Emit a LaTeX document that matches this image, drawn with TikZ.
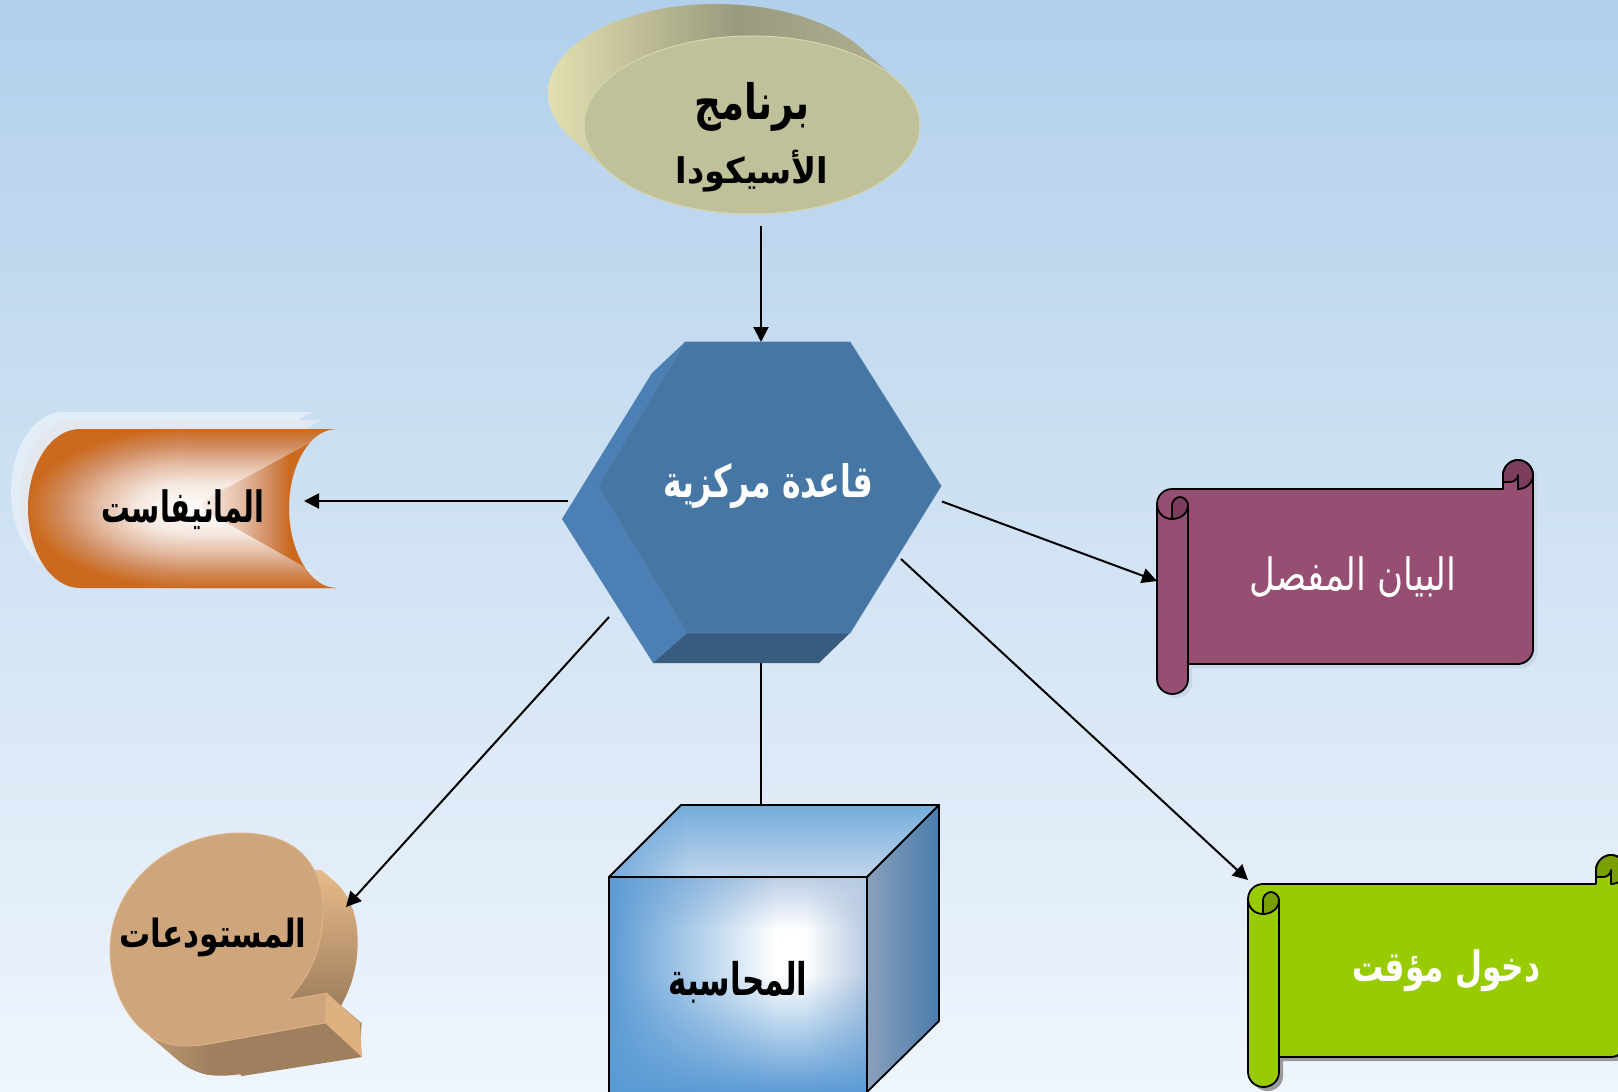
\documentclass[tikz,border=0pt]{standalone}
\usepackage{graphicx}
\usepackage{fontspec}
\usetikzlibrary{arrows.meta,fadings}
\TeXXeTstate=1
\newfontfamily\arabicfont[Script=Arabic]{DejaVu Sans}
\definecolor{bgtop}{HTML}{B2D0EB}
\definecolor{bgbot}{HTML}{EFF5FC}
\definecolor{manor}{HTML}{CB6A1E}
\definecolor{manA}{HTML}{D08A5C}
\definecolor{manB}{HTML}{E4BCA4}
\definecolor{manC}{HTML}{F6EAE2}
\definecolor{cubeblue}{HTML}{5B9BD5}
\definecolor{cubepale}{HTML}{BCCFE6}
\definecolor{cubepaleR}{HTML}{B8CAE2}
\definecolor{cubetopA}{HTML}{74ACDC}
\definecolor{cubetopB}{HTML}{C0D6EC}
\definecolor{cubecornA}{HTML}{72A9DA}
\definecolor{cubesideA}{HTML}{8AA0BC}
\definecolor{cubesideB}{HTML}{4A7CAC}
\definecolor{ellL}{HTML}{E2E0B0}
\definecolor{ellM}{HTML}{9A9A7E}
\definecolor{ellR}{HTML}{B4B494}
\definecolor{ellF}{HTML}{C0C09A}
\definecolor{ellE}{HTML}{D6D6AE}
\definecolor{hexL}{HTML}{4C7FB3}
\definecolor{hexB}{HTML}{375C80}
\definecolor{hexF}{HTML}{4677A4}
\definecolor{hexE}{HTML}{4F80B0}
\definecolor{manbackA}{HTML}{E2EDF8}
\definecolor{manbackB}{HTML}{E2E8EE}
\definecolor{purpleF}{HTML}{964F72}
\definecolor{purpleD}{HTML}{7B3F5D}
\definecolor{purpleS}{HTML}{C9D7E8}
\definecolor{greenF}{HTML}{99CC00}
\definecolor{greenD}{HTML}{7A9F00}
\definecolor{greenS}{HTML}{9A9A9A}
\definecolor{bubF}{HTML}{CFA67B}
\definecolor{bubE}{HTML}{DFB486}
\definecolor{bubTop}{HTML}{E8BB8A}
\definecolor{bubLow}{HTML}{C4A27E}
\definecolor{bubDark}{HTML}{A07F5E}
\definecolor{bubTail}{HTML}{DFB080}
\pgfdeclareverticalshading{manvert}{100bp}{color(0bp)=(manor); color(25bp)=(manor); color(30bp)=(manA); color(36bp)=(manB); color(42.5bp)=(manC); color(50bp)=(white); color(57.5bp)=(manC); color(64bp)=(manB); color(70bp)=(manA); color(75bp)=(manor); color(100bp)=(manor)}
\pgfdeclareradialshading{manrad}{\pgfpointorigin}{color(0bp)=(white); color(7.5bp)=(manC); color(14bp)=(manB); color(20bp)=(manA); color(25bp)=(manor); color(50bp)=(manor)}
\pgfdeclarehorizontalshading{manwedge}{100bp}{color(0bp)=(white); color(25bp)=(white); color(30bp)=(manC); color(45bp)=(manB); color(58bp)=(manA); color(66bp)=(manor); color(100bp)=(manor)}
\tikzfading[name=fromleft,left color=transparent!0,right color=transparent!100]
\tikzfading[name=fromright,left color=transparent!100,right color=transparent!0]
\tikzfading[name=fromtop,top color=transparent!0,bottom color=transparent!100]
\tikzfading[name=frombottom,top color=transparent!100,bottom color=transparent!0]
\newcommand{\artext}[3]{\resizebox*{#1pt}{#2pt}{\arabicfont #3}}
\newcommand{\scrollpath}{(0,15) .. controls (0,6.7) and (6.7,0) .. (15,0) -- (\Wa,0) -- (\Wa,-14) .. controls (\Wa,-22) and (\Wb,-29) .. (\Wc,-29) .. controls (\Wd,-29) and (\W,-22) .. (\W,-14) -- (\W,\Ha) .. controls (\W,\Hb) and (\Wd,\H) .. (\Wc,\H) -- (31,\H) -- (31,\Hc) .. controls (31,\Hd) and (24,\He) .. (15.5,\He) .. controls (7,\He) and (0,\Hd) .. (0,\Hc) -- cycle}
% #1 x, #2 y, #3 width, #4 height, #5 main colour, #6 dark colour, #7 shadow colour
\newcommand{\scrollshape}[7]{%
  \begin{scope}[shift={(#1,#2)}]
    \pgfmathsetmacro{\W}{#3}\pgfmathsetmacro{\H}{#4}
    \pgfmathsetmacro{\Wa}{#3-30}\pgfmathsetmacro{\Wb}{#3-23}\pgfmathsetmacro{\Wc}{#3-15}\pgfmathsetmacro{\Wd}{#3-7}
    \pgfmathsetmacro{\We}{#3-19}
    \pgfmathsetmacro{\Ha}{#4-15}\pgfmathsetmacro{\Hb}{#4-7}\pgfmathsetmacro{\Hc}{#4+15}\pgfmathsetmacro{\Hd}{#4+23.5}\pgfmathsetmacro{\He}{#4+30}
    \fill[#7,shift={(4,4)}] \scrollpath;
    \draw[scrolline,fill=#5] \scrollpath;
    % right curl
    \draw[scrolline,fill=#6] (\Wa,-7) -- (\Wa,-14) .. controls (\Wa,-22) and (\Wb,-29) .. (\Wc,-29) .. controls (\Wd,-29) and (\W,-22) .. (\W,-14) .. controls (\W,-6) and (\Wd,0) .. (\Wc,0) -- (\Wc,-14) .. controls (\Wc,-10) and (\We,-7) .. (\Wb,-7) -- cycle;
    % left curl
    \draw[scrolline,fill=#6] (15,30) -- (15,16) .. controls (15,12) and (19,8) .. (23,8) .. controls (27,8) and (31,12) .. (31,16) .. controls (31,24) and (24,30) .. (15,30) -- cycle;
    \draw[scrolline] (0,15) .. controls (0,24) and (7,30) .. (15,30);
    \draw[scrolline] (31,16) -- (31,\H);
  \end{scope}}
\newcommand{\bubpath}{({240+\dx},{833+\dy}) .. controls ({295+\dx},{833+\dy}) and ({323+\dx},{862+\dy}) .. ({323+\dx},{912+\dy}) .. controls ({323+\dx},{945+\dy}) and ({312+\dx},{975+\dy}) .. ({288+\dx},{1000+\dy}) -- ({327+\dx},{993+\dy}) -- ({325+\dx},{1023+\dy}) -- ({220+\dx},{1042+\dy}) .. controls ({205+\dx},{1045+\dy}) and ({195+\dx},{1046+\dy}) .. ({185+\dx},{1046+\dy}) .. controls ({140+\dx},{1046+\dy}) and ({110+\dx},{1000+\dy}) .. ({110+\dx},{950+\dy}) .. controls ({110+\dx},{885+\dy}) and ({170+\dx},{833+\dy}) .. ({240+\dx},{833+\dy}) -- cycle}
\tikzset{
  every node/.style={inner sep=0pt,outer sep=0pt},
  link/.style={line width=2pt,black,-{Triangle[length=15pt,width=15pt]}},
  plainlink/.style={line width=2pt,black},
  scrolline/.style={line width=1.8pt,black,line join=round},
  cubeline/.style={line width=1.8pt,black,line join=miter},
  blacktext/.style={text=black,font=\bfseries},
  whitetext/.style={text=white,font=\bfseries},
  lighttext/.style={text=white},
}
\begin{document}
\begin{tikzpicture}[x=1pt,y=-1pt]
\useasboundingbox (0,0) rectangle (1618,1092);
\path[clip] (0,0) rectangle (1618,1092);
\shade[top color=bgtop,bottom color=bgbot] (0,0) rectangle (1618,1092);

\coordinate (progOut) at (761,226);
\coordinate (hexTop) at (761,342);
\coordinate (hexLeftOut) at (568,501);
\coordinate (manIn) at (304,501);
\coordinate (hexRightOut) at (942,501.5);
\coordinate (bayanIn) at (1157,581);
\coordinate (hexLowRight) at (901,559);
\coordinate (dukhulIn) at (1248,880);
\coordinate (hexLowLeft) at (609,617);
\coordinate (mustIn) at (346,907);
\coordinate (hexBot) at (761,663);
\coordinate (cubeTop) at (761,805);

% ---------- programme ellipse
\begin{scope}
  \clip \foreach \t in {0,0.033,...,1.01} { ({716+36*\t},{93+32*\t}) ellipse [x radius=168pt,y radius=89pt] };
  \shade[left color=ellL,right color=ellR,middle color=ellM] (548,0) rectangle (925,220);
\end{scope}
\fill[ellF,draw=ellE,line width=1pt] (752,125) ellipse [x radius=168pt,y radius=89pt];

% ---------- hexagon
\fill[hexL] (685,342) -- (652,373) -- (562,519) -- (653,663) -- (687,633) -- (598,486) -- cycle;
\fill[hexB] (653,663) -- (687,633) -- (850,633) -- (819,663) -- cycle;
\fill[hexF,draw=hexE,line width=0.8pt,line join=round] (685,342) -- (850,342) -- (941,486) -- (850,633) -- (687,633) -- (598,486) -- cycle;

% ---------- manifest shape
\newcommand{\manpath}{(80,429) -- (336,429) .. controls (310,429) and (289,465) .. (289,508) .. controls (289,551) and (310,588) .. (336,588) -- (80,588) .. controls (51,588) and (28,552) .. (28,508) .. controls (28,465) and (51,429) .. (80,429) -- cycle}
\fill[manbackA,shift={(-17,-17)}] \manpath;
\fill[manbackB,shift={(-8,-9)}] \manpath;
\begin{scope}
  \clip \manpath;
  \fill[manor] (0,420) rectangle (340,600);
  \shade[shading=manvert] (187,429) rectangle (340,588);
  \begin{scope}
    \clip (0,420) rectangle (187,600);
    \shade[shading=manrad] (187,508) ellipse [x radius=159pt,y radius=79.5pt];
  \end{scope}
  \shade[shading=manwedge] (195,505) -- (310,443) -- (310,570) -- cycle;
\end{scope}

% ---------- scrolls
\scrollshape{1157}{489}{376}{175}{purpleF}{purpleD}{purpleS}
\scrollshape{1248}{884}{378}{173}{greenF}{greenD}{greenS}

% ---------- speech-bubble
\begin{scope}
  \clip \foreach \t [evaluate=\t as \dx using 35*\t, evaluate=\t as \dy using 30*\t] in {0,0.033,...,1.01} { \bubpath };
  \shade[top color=bubTop,bottom color=bubDark] (100,870) rectangle (370,1005);
  \fill[bubDark] (100,1004) rectangle (370,1085);
  \shade[left color=bubLow,right color=bubDark] (130,1010) rectangle (210,1085);
\end{scope}
\fill[bubDark] (207,1045) -- (325,1023) -- (362,1057) -- (242,1076) -- cycle;
\fill[bubTail] (327,993) -- (360,1023) -- (362,1057) -- (325,1023) -- cycle;
\def\dx{0}\def\dy{0}
\fill[bubF,draw=bubE,line width=0.8pt,line join=round] \bubpath;

% ---------- cube
\fill[white] (609,877) rectangle (867,1092);
\fill[cubepale,path fading=fromtop] (609,877) rectangle (867,930);
\fill[cubepaleR,path fading=fromright] (805,877) rectangle (867,1092);
\fill[cubeblue,path fading=frombottom] (609,975) rectangle (867,1092);
\fill[cubeblue,path fading=fromleft] (609,877) rectangle (775,1092);
\shade[top color=cubetopA,bottom color=cubetopB] (681,805) -- (939,805) -- (867,877) -- (609,877) -- cycle;
\fill[cubecornA,path fading=fromleft] (609,877) -- (681,805) -- (690,877) -- cycle;
\shade[left color=cubesideA,right color=cubesideB] (867,877) -- (939,805) -- (939,1021) -- (867,1092) -- cycle;
\draw[cubeline] (609,1092) -- (609,877) -- (681,805) -- (939,805) -- (939,1021) -- (867,1092) -- (867,877) -- (609,877);
\draw[cubeline] (867,877) -- (939,805);

% ---------- connectors
\draw[link] (progOut) -- (hexTop);
\draw[link] (hexLeftOut) -- (manIn);
\draw[link] (hexRightOut) -- (bayanIn);
\draw[link] (hexLowRight) -- (dukhulIn);
\draw[link] (hexLowLeft) -- (mustIn);
\draw[plainlink] (hexBot) -- (cubeTop);

% ---------- labels
\node[blacktext] (progA) at (752,107) {\artext{115}{49}{\beginR برنامج\endR}};
\node[blacktext] (progB) at (752,171) {\artext{153}{42}{\beginR الأسيكودا\endR}};
\node[whitetext] (hexLabel) at (768,486) {\artext{210}{45}{\beginR قاعدة مركزية\endR}};
\node[blacktext] (manLabel) at (183,510) {\artext{163}{40}{\beginR المانيفاست\endR}};
\node[lighttext] (bayanLabel) at (1353,577) {\artext{207}{41}{\beginR البيان المفصل\endR}};
\node[whitetext] (dukhulLabel) at (1446,971) {\artext{188}{42}{\beginR دخول مؤقت\endR}};
\node[blacktext] (mustLabel) at (213,937) {\artext{187}{39}{\beginR المستودعات\endR}};
\node[blacktext] (cubeLabel) at (738,982) {\artext{139}{42}{\beginR المحاسبة\endR}};
\end{tikzpicture}
\end{document}
